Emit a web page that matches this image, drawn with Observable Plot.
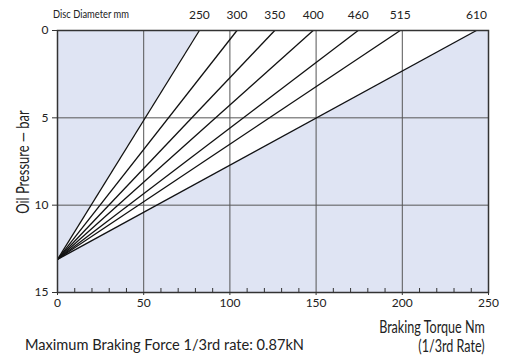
<!DOCTYPE html>
<html><head><meta charset="utf-8">
<script src="https://cdn.jsdelivr.net/npm/d3@7"></script>
<script src="https://cdn.jsdelivr.net/npm/@observablehq/plot@0.6"></script>
<style>
body{margin:0;background:#fff;}
#wrap{position:relative;width:510px;height:356px;overflow:hidden;font-family:Lato,sans-serif;color:#222;}
.t{position:absolute;white-space:nowrap;line-height:1;}
</style></head><body><div id="wrap"></div>
<script>
const discDiameters = [250, 300, 350, 400, 460, 515, 610];
const torqueAtZeroBar = [82.3, 104.1, 126, 148.3, 174.4, 198.8, 243];
const convergenceBar = 13.1;
const xTicks = [0, 50, 100, 150, 200, 250];
const xMinorTicks = [10,20,30,40,60,70,80,90,110,120,130,140,160,170,180,190,210,220,230,240];
const xGrid = [50, 100, 150, 200];
const yTicks = [0, 5, 10, 15];
const yGrid = [5, 10];

const lines = discDiameters.map((d, i) => ({diam: d, x1: 0, y1: convergenceBar, x2: torqueAtZeroBar[i], y2: 0}));
const fan = [
  {y: 0, x1: torqueAtZeroBar[0], x2: torqueAtZeroBar[torqueAtZeroBar.length - 1]},
  {y: convergenceBar, x1: 0, x2: 0}
];

const chart = Plot.plot({
  width: 510, height: 356,
  marginLeft: 57, marginRight: 22, marginTop: 30, marginBottom: 64,
  style: {fontFamily: "Lato, sans-serif", fontSize: "12px", color: "#222", background: "white"},
  x: {domain: [0, 250]},
  y: {domain: [0, 15], reverse: true},
  marks: [
    Plot.frame({fill: "#dfe4f3", stroke: null}),
    Plot.areaX(fan, {y: "y", x1: "x1", x2: "x2", fill: "white"}),
    Plot.ruleX(xGrid, {stroke: "#555", strokeWidth: 1}),
    Plot.ruleY(yGrid, {stroke: "#555", strokeWidth: 1}),
    Plot.link(lines, {x1: "x1", y1: "y1", x2: "x2", y2: "y2", stroke: "#111", strokeWidth: 1.3}),
    Plot.ruleX(xMinorTicks, {y1: 15, y2: 15, insetTop: -4, stroke: "#333", strokeWidth: 1}),
    Plot.frame({stroke: "#333", strokeWidth: 1.5}),
    Plot.axisY({ticks: yTicks, tickSize: 5, tickPadding: 4, label: null, fontSize: 12, stroke: "#333"}),
    Plot.axisX({ticks: xTicks, tickSize: 3, tickPadding: 3, label: null, fontSize: 12, stroke: "#333"}),
    Plot.text(lines, {x: "x2", y: "y2", text: d => String(d.diam), dy: -15, fontSize: 12, fill: "#222"})
  ]
});
const wrap = document.getElementById("wrap");
wrap.appendChild(chart);
chart.style.position = "absolute"; chart.style.left = "0"; chart.style.top = "0";

function addText(txt, css) {
  const el = document.createElement("div");
  el.className = "t";
  el.textContent = txt;
  Object.assign(el.style, css);
  wrap.appendChild(el);
  return el;
}
addText("Disc Diameter mm", {left: "53px", top: "8px", fontSize: "12px", transform: "scaleX(0.78)", transformOrigin: "left center"});
addText("Oil Pressure — bar", {left: "22px", top: "162px", fontSize: "17px", transform: "translate(-50%,-50%) rotate(-90deg) scaleX(0.76)"});
addText("Braking Torque Nm", {right: "25px", top: "318px", fontSize: "17px", transform: "scaleX(0.74)", transformOrigin: "right center"});
addText("(1/3rd Rate)", {right: "25px", top: "337px", fontSize: "17px", transform: "scaleX(0.74)", transformOrigin: "right center"});
addText("Maximum Braking Force 1/3rd rate: 0.87kN", {left: "25px", top: "338px", fontSize: "14.6px"});
addText("Conversion Factor: 17.4", {left: "25px", top: "355px", fontSize: "14px"});
</script>
</body></html>
